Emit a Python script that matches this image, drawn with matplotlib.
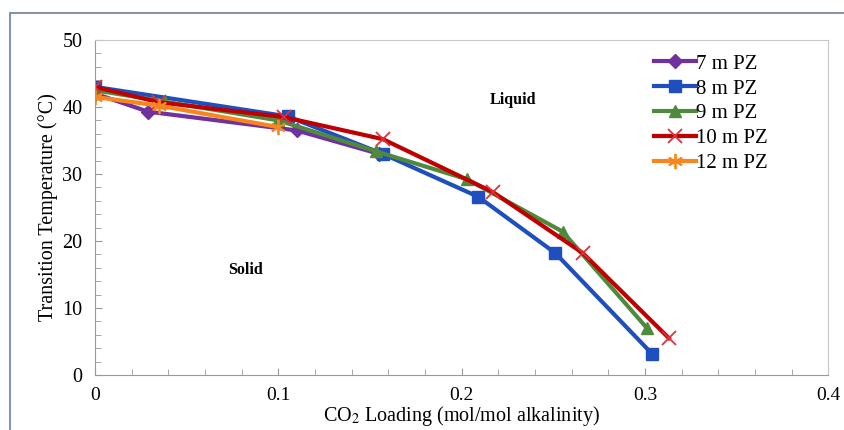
import matplotlib
matplotlib.use("Agg")
from matplotlib import pyplot as plt
from matplotlib.patches import Rectangle
from matplotlib.ticker import MultipleLocator

# data
x7 = [0, 0.029, 0.110, 0.155]
t7 = [42.0, 39.3, 36.5, 33.0]
x8 = [0, 0.105, 0.157, 0.209, 0.251, 0.304]
t8 = [43.0, 38.6, 33.0, 26.6, 18.2, 3.1]
x9 = [0, 0.038, 0.100, 0.153, 0.203, 0.255, 0.301]
t9 = [42.5, 40.8, 38.0, 33.4, 29.2, 21.4, 7.0]
x10 = [0, 0.035, 0.103, 0.157, 0.217, 0.266, 0.313]
t10 = [43.0, 40.7, 38.5, 35.2, 27.3, 18.2, 5.5]
x12 = [0, 0.035, 0.100]
t12 = [41.5, 40.2, 37.0]

labels = ["7 m PZ", "8 m PZ", "9 m PZ", "10 m PZ", "12 m PZ"]
xticks = [0, 0.1, 0.2, 0.3, 0.4]
xticklabels = ['0', '0.1', '0.2', '0.3', '0.4']

plt.rcParams['font.family'] = ['Liberation Serif', 'DejaVu Serif']
plt.rcParams['mathtext.fontset'] = 'stix'

fig = plt.figure(figsize=(8.45, 4.3), dpi=100)
ax = fig.add_axes([0.1124, 0.128, 0.868, 0.779])

lw = 3.0
ax.plot(x7, t7, color='#7030A0', lw=lw, marker='D', ms=7, label=labels[0])
ax.plot(x8, t8, color='#1F4FBF', lw=lw, marker='s', ms=9, label=labels[1])
ax.plot(x9, t9, color='#4F8A3C', lw=lw, marker='^', ms=9, label=labels[2])
ax.plot(x10, t10, color='#C00000', lw=lw, marker='x', ms=10, mew=1.3, mec='#E0303A', label=labels[3])
ax.plot(x12, t12, color='#F7861E', lw=lw, marker=(6, 2, 0), ms=11, mew=1.3, label=labels[4])

ax.set_xlim(0, 0.4)
ax.set_ylim(0, 50)
ax.set_xticks(xticks)
ax.set_xticklabels(xticklabels)
ax.xaxis.set_minor_locator(MultipleLocator(0.02))
ax.yaxis.set_major_locator(MultipleLocator(10))
ax.yaxis.set_minor_locator(MultipleLocator(2))
ax.tick_params(which='both', direction='in', color='#999999', labelsize=14.5)
ax.tick_params(which='major', length=5)
ax.tick_params(which='minor', length=4)
ax.tick_params(axis='x', pad=9, labelsize=14)
ax.tick_params(axis='y', pad=9)
for s in ax.spines.values():
    s.set_color('#C8C8C8')
ax.spines['left'].set_color('#999999')
ax.spines['bottom'].set_color('#999999')

ax.set_ylabel("Transition Temperature (°C)", fontsize=14.5, labelpad=3)
ax.set_xlabel("CO$_2$ Loading (mol/mol alkalinity)", fontsize=14.5, labelpad=-0.5)

ax.text(0.228, 41, "Liquid", fontsize=11.5, fontweight='bold', ha='center', va='center')
ax.text(0.082, 15.7, "Solid", fontsize=11.5, fontweight='bold', ha='center', va='center')

ax.legend(loc='upper left', bbox_to_anchor=(0.745, 0.995), frameon=False, fontsize=15,
          handlelength=2.0, handletextpad=0.0, labelspacing=0.25, borderaxespad=0.2)

fig.patches.append(Rectangle((0.012, -0.05), 1.1, 1.02, transform=fig.transFigure,
                             fill=False, edgecolor='#6C8099', lw=1.2))

fig.savefig("out.png", dpi=100)
